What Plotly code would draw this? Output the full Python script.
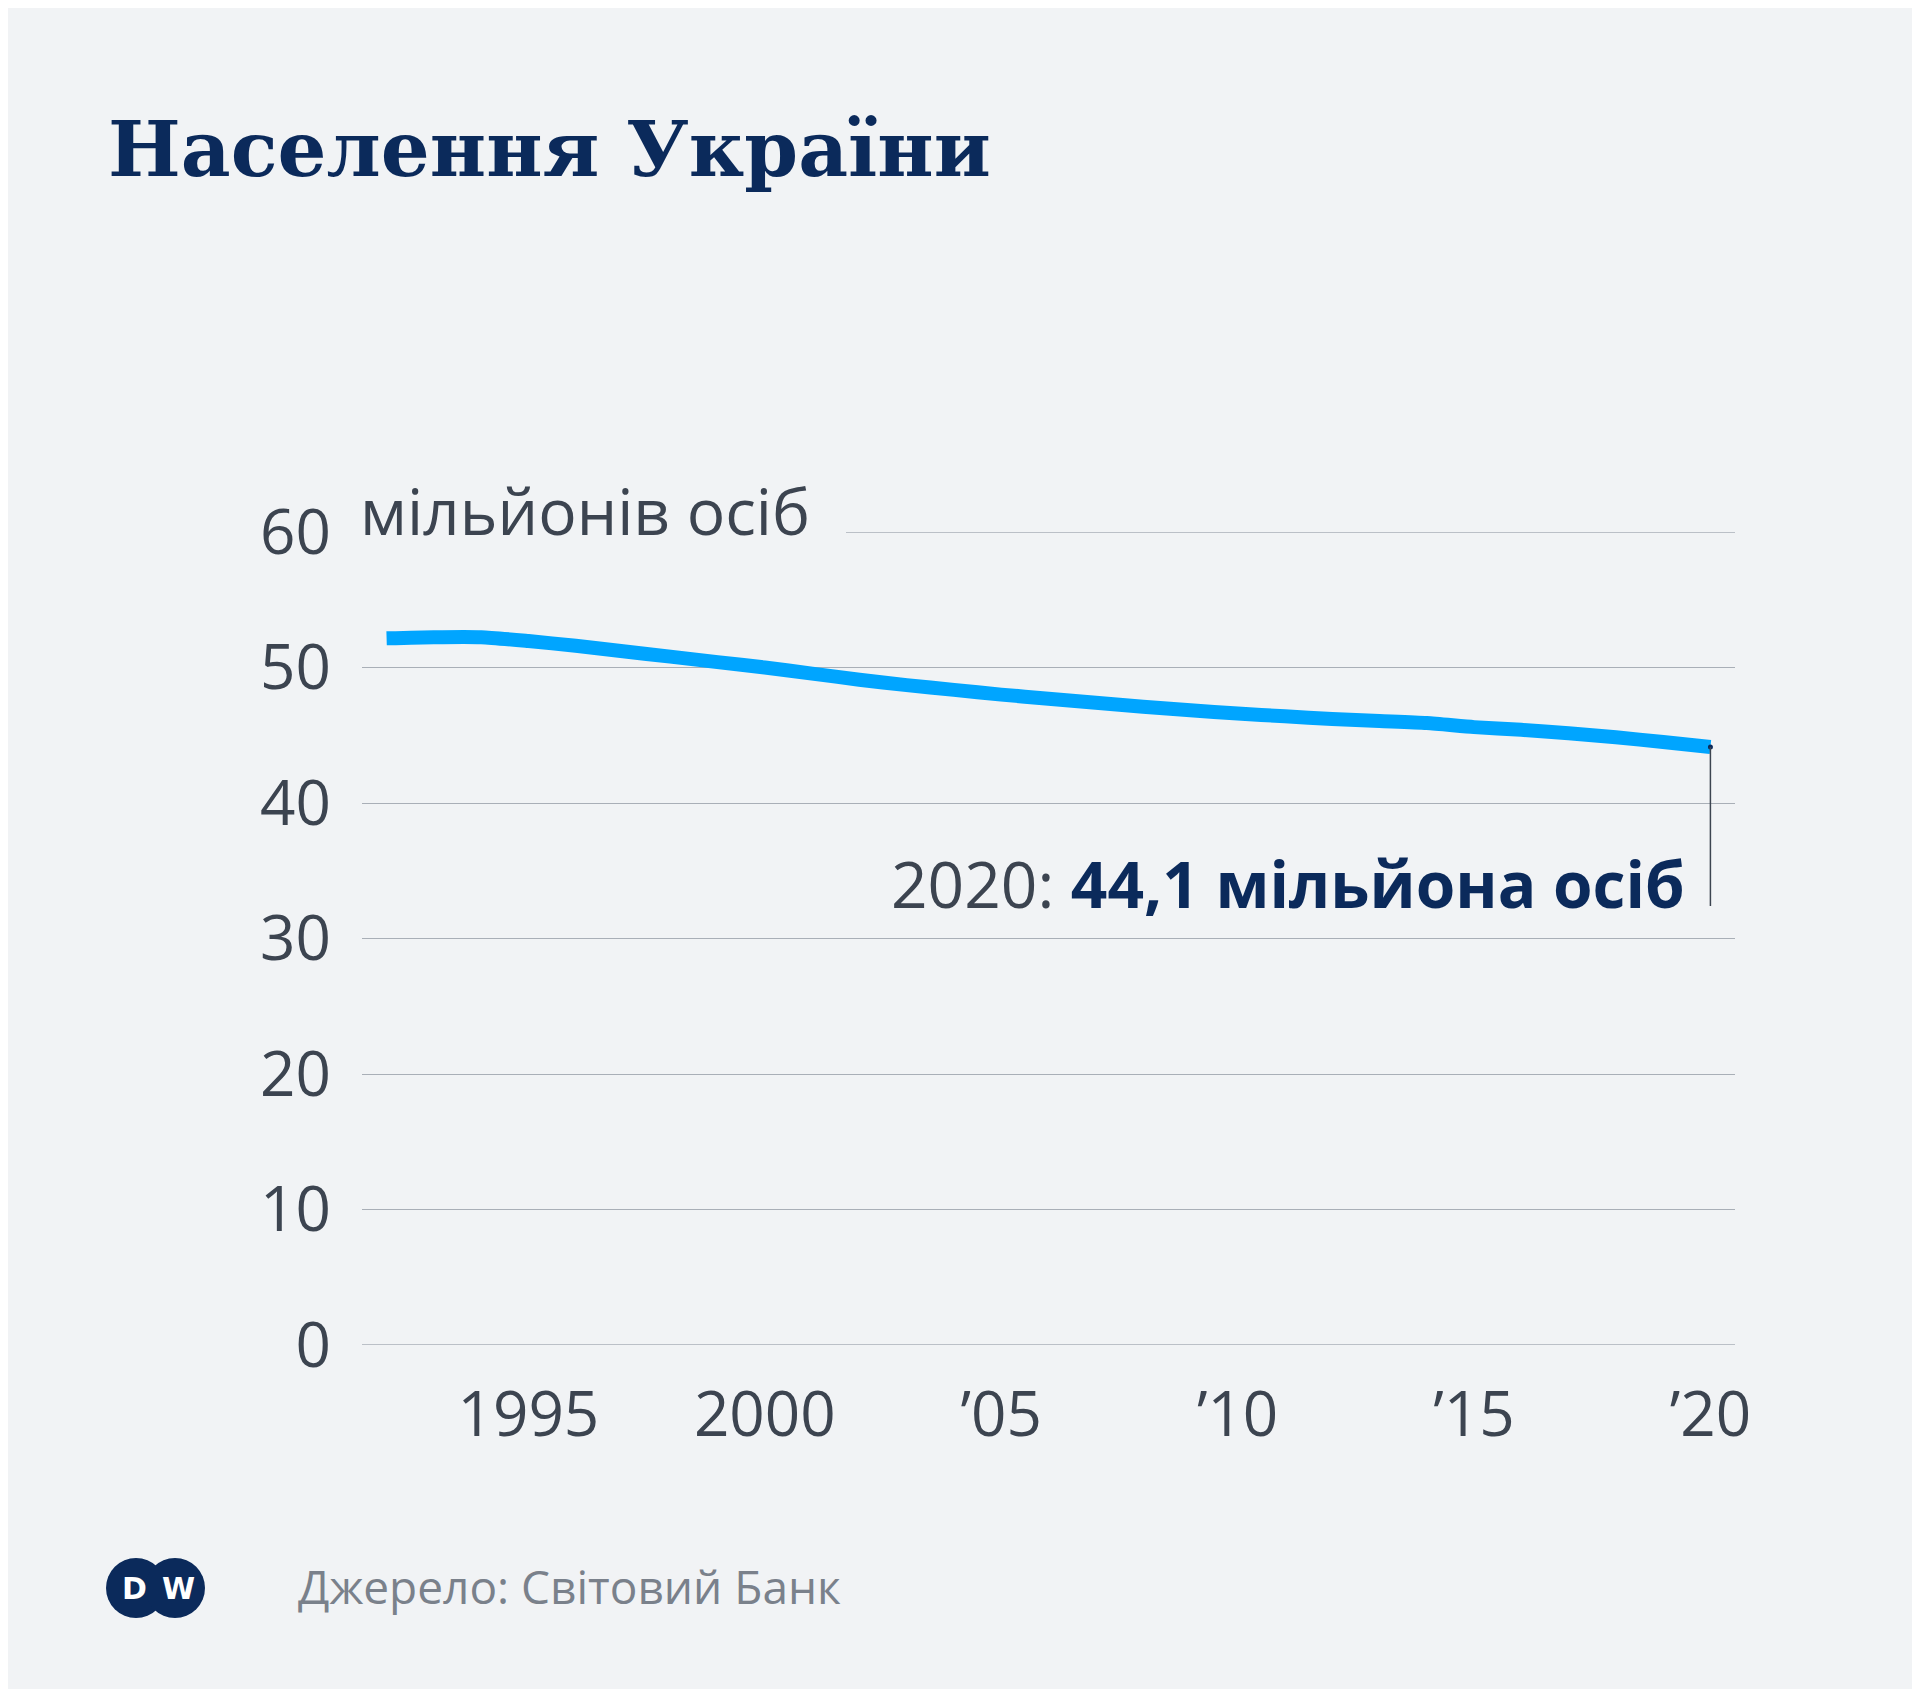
import plotly.graph_objects as go

years = list(range(1992, 2021))
population = [52.15, 52.24, 52.24, 51.95, 51.6, 51.2, 50.8, 50.4, 50.0, 49.55,
              49.1, 48.7, 48.35, 48.0, 47.7, 47.4, 47.1, 46.85, 46.6, 46.4,
              46.2, 46.05, 45.9, 45.6, 45.4, 45.15, 44.85, 44.5, 44.13]
xtick_vals = [1995, 2000, 2005, 2010, 2015, 2020]
xtick_text = ["1995", "2000", "’05", "’10", "’15", "’20"]
ytick_vals = [0, 10, 20, 30, 40, 50, 60]

W, H = 1920, 1689
L, R, T, B = 354, 1727, 524, 1337
def px(x): return (x - L) / (R - L)
def py(y): return (B - y) / (B - T)

BG = "#f1f3f5"; NAVY = "#0b2a5b"; GRAY = "#3c4450"; GRID = "#a9afb7"
fig = go.Figure(go.Scatter(x=years, y=population, mode="lines",
                           line=dict(color="#00a5ff", width=14, shape="spline", smoothing=0.6),
                           hoverinfo="skip"))
fig.add_trace(go.Scatter(x=[2020], y=[44.13], mode="markers",
                         marker=dict(color=NAVY, size=5), hoverinfo="skip"))
fig.update_layout(
    width=W, height=H, paper_bgcolor=BG, plot_bgcolor=BG, showlegend=False,
    margin=dict(l=L, r=W - R, t=T, b=H - B),
    font=dict(family="Open Sans", color=GRAY),
    xaxis=dict(range=[1991.48, 2020.52], tickvals=xtick_vals, ticktext=xtick_text,
               showgrid=False, zeroline=False, showline=False,
               tickfont=dict(size=62, color=GRAY), ticklabelstandoff=28),
    yaxis=dict(range=[0, 60], tickvals=ytick_vals, showgrid=True, gridcolor=GRID,
               gridwidth=1.3, zeroline=False, showline=False,
               tickfont=dict(size=62, color=GRAY), ticklabelstandoff=30),
)
fig.add_shape(type="line", xref="paper", x0=0, x1=1, y0=0, y1=0, layer="below",
              line=dict(color=GRID, width=1.3))
fig.add_shape(type="line", xref="paper", x0=px(838), x1=1, y0=60, y1=60, layer="below",
              line=dict(color=GRID, width=1.3))
fig.add_shape(type="line", x0=2020, x1=2020, y0=44.13, y1=32.4,
              line=dict(color=GRAY, width=1.5))
fig.add_annotation(x=px(350), y=py(503), xref="paper", yref="paper", xanchor="left",
                   yanchor="middle", text="мільйонів осіб", showarrow=False,
                   font=dict(size=64, color=GRAY))
fig.add_annotation(x=2019.5, y=(1092 - 715) / 11.07, xanchor="right", yanchor="middle",
                   text="2020: <b style='color:#0b2a5b'>44,1 мільйона осіб</b>",
                   showarrow=False, font=dict(size=64, color=GRAY))
fig.add_annotation(x=px(98), y=py(141), xref="paper", yref="paper", xanchor="left",
                   yanchor="middle", text="<b>Населення України</b>", showarrow=False,
                   font=dict(family="DejaVu Serif", size=77, color=NAVY))
fig.add_annotation(x=px(288), y=py(1578), xref="paper", yref="paper", xanchor="left",
                   yanchor="middle", text="Джерело: Світовий Банк", showarrow=False,
                   font=dict(size=46, color="#7a818b"))
for cx in [128, 167]:
    r = 30
    fig.add_shape(type="circle", xref="paper", yref="paper",
                  x0=px(cx - r), x1=px(cx + r), y0=py(1580 + r), y1=py(1580 - r),
                  fillcolor=NAVY, line=dict(color=NAVY, width=0))
for cx, letter in [(126, "D"), (170, "W")]:
    fig.add_annotation(x=px(cx), y=py(1580), xref="paper", yref="paper",
                       xanchor="center", yanchor="middle",
                       text="<b>%s</b>" % letter, showarrow=False,
                       font=dict(family="DejaVu Sans", size=30, color="white"))
fig.write_html("out.html")
